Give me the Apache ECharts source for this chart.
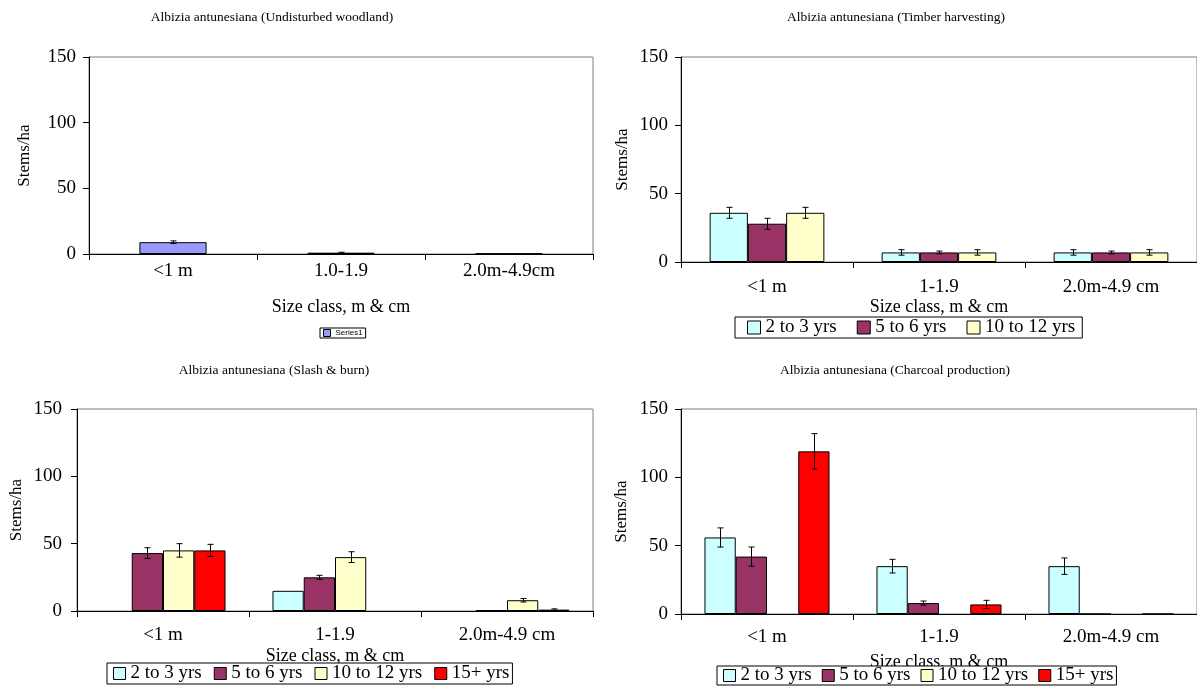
<!DOCTYPE html>
<html><head><meta charset="utf-8">
<script src="https://cdn.jsdelivr.net/npm/echarts@6/dist/echarts.min.js"></script>
<style>html,body{margin:0;padding:0;background:#fff}#c{width:1197px;height:687px}</style>
</head><body><div id="c"></div>
<script>
// ---------- data ----------
const titles = [
  'Albizia antunesiana (Undisturbed woodland)',
  'Albizia antunesiana (Timber harvesting)',
  'Albizia antunesiana (Slash & burn)',
  'Albizia antunesiana (Charcoal production)'
];
const categoriesTL = ['<1 m', '1.0-1.9', '2.0m-4.9cm'];
const categoriesOther = ['<1 m', '1-1.9', '2.0m-4.9 cm'];
const seriesNames = ['2 to 3 yrs', '5 to 6 yrs', '10 to 12 yrs', '15+ yrs'];
const yTicks = [0, 50, 100, 150];

// Undisturbed woodland
const undisturbedSeries1 = [9, 1, 0.3];
const undisturbedSeries1Err = [1, 0.3, 0];

// Timber harvesting
const timber2to3 = [36, 7, 7];
const timber2to3Err = [4, 2, 2];
const timber5to6 = [28, 7, 7];
const timber5to6Err = [4, 1, 1];
const timber10to12 = [36, 7, 7];
const timber10to12Err = [4, 2, 2];

// Slash & burn
const slash2to3 = [null, 15, null];
const slash2to3Err = [0, 0, 0];
const slash5to6 = [43, 25, 0.7];
const slash5to6Err = [4, 1.5, 0];
const slash10to12 = [45, 40, 8];
const slash10to12Err = [5, 4, 1.3];
const slash15plus = [45, null, 1];
const slash15plusErr = [4.5, 0, 0.6];

// Charcoal production
const charcoal2to3 = [56, 35, 35];
const charcoal2to3Err = [7, 5, 6];
const charcoal5to6 = [42, 8, 0];
const charcoal5to6Err = [7, 1.5, 0];
const charcoal10to12 = [null, null, null];
const charcoal10to12Err = [0, 0, 0];
const charcoal15plus = [119, 7, 0];
const charcoal15plusErr = [13, 3, 0];

// ---------- styles ----------
const SERIF = 'Liberation Serif';
const colors = ['#CCFFFF', '#993366', '#FFFFCC', '#FF0000'];

const panels = [
  { grid: {left: 89, top: 57, width: 504, height: 197}, cats: categoriesTL,
    series: [{name: 'Series1', color: '#9999FF', data: undisturbedSeries1, err: undisturbedSeries1Err}],
    labelMargin: 8, nameGap: 53, yNameGap: 64, yLabelMargin: 13, titleX: 272, titleY: 17 },
  { grid: {left: 681, top: 57, width: 519, height: 205}, cats: categoriesOther,
    series: [
      {name: seriesNames[0], color: colors[0], data: timber2to3, err: timber2to3Err},
      {name: seriesNames[1], color: colors[1], data: timber5to6, err: timber5to6Err},
      {name: seriesNames[2], color: colors[2], data: timber10to12, err: timber10to12Err}
    ],
    labelMargin: 16, nameGap: 45, yNameGap: 58, yLabelMargin: 13, titleX: 896, titleY: 17 },
  { grid: {left: 77, top: 409, width: 516, height: 202}, cats: categoriesOther,
    series: [
      {name: seriesNames[0], color: colors[0], data: slash2to3, err: slash2to3Err},
      {name: seriesNames[1], color: colors[1], data: slash5to6, err: slash5to6Err},
      {name: seriesNames[2], color: colors[2], data: slash10to12, err: slash10to12Err},
      {name: seriesNames[3], color: colors[3], data: slash15plus, err: slash15plusErr}
    ],
    labelMargin: 15, nameGap: 45, yNameGap: 60, yLabelMargin: 15, titleX: 274, titleY: 370 },
  { grid: {left: 681, top: 409, width: 519, height: 205}, cats: categoriesOther,
    series: [
      {name: seriesNames[0], color: colors[0], data: charcoal2to3, err: charcoal2to3Err},
      {name: seriesNames[1], color: colors[1], data: charcoal5to6, err: charcoal5to6Err},
      {name: seriesNames[2], color: colors[2], data: charcoal10to12, err: charcoal10to12Err},
      {name: seriesNames[3], color: colors[3], data: charcoal15plus, err: charcoal15plusErr}
    ],
    labelMargin: 14, nameGap: 48, yNameGap: 59, yLabelMargin: 13, titleX: 895, titleY: 370 }
];

function errRender(idx, n) {
  return function (params, api) {
    const v = api.value(1), e = api.value(2);
    if (!(e > 0) || isNaN(v)) return;
    const catW = api.size([1, 0])[0];
    const bw = catW / (n + 1.5);
    const off = (idx - (n - 1) / 2) * bw;
    const top = api.coord([api.value(0), v + e]);
    const bot = api.coord([api.value(0), v - e]);
    const x = Math.round(top[0] + off) + 0.5;
    const cap = 3;
    const st = {stroke: '#000', lineWidth: 1};
    return {type: 'group', children: [
      {type: 'line', shape: {x1: x, y1: top[1], x2: x, y2: bot[1]}, style: st},
      {type: 'line', shape: {x1: x - cap, y1: top[1], x2: x + cap, y2: top[1]}, style: st},
      {type: 'line', shape: {x1: x - cap, y1: bot[1], x2: x + cap, y2: bot[1]}, style: st}
    ]};
  };
}

const grid = [], xAxis = [], yAxis = [], series = [], graphic = [];
panels.forEach((p, gi) => {
  grid.push(Object.assign({show: true, borderColor: '#808080', borderWidth: 1, backgroundColor: '#fff'}, p.grid));
  xAxis.push({
    type: 'category', gridIndex: gi, data: p.cats,
    axisLine: {lineStyle: {color: '#000', width: 1}},
    axisTick: {show: true, length: 6, inside: false, lineStyle: {color: '#000'}},
    axisLabel: {color: '#000', fontFamily: SERIF, fontSize: 19, margin: p.labelMargin, interval: 0},
    name: 'Size class, m & cm', nameLocation: 'middle', nameGap: p.nameGap,
    nameTextStyle: {color: '#000', fontFamily: SERIF, fontSize: 18, verticalAlign: 'middle'},
    splitLine: {show: false}
  });
  yAxis.push({
    type: 'value', gridIndex: gi, min: yTicks[0], max: yTicks[yTicks.length - 1], interval: 50,
    axisLine: {show: true, lineStyle: {color: '#000', width: 1}},
    axisTick: {show: true, length: 6, lineStyle: {color: '#000'}},
    axisLabel: {color: '#000', fontFamily: SERIF, fontSize: 19, margin: p.yLabelMargin},
    splitLine: {show: false},
    name: 'Stems/ha', nameLocation: 'middle', nameGap: p.yNameGap, nameRotate: 90,
    nameTextStyle: {color: '#000', fontFamily: SERIF, fontSize: 17, verticalAlign: 'middle'}
  });
  const n = p.series.length;
  const gap = (1.5 / (n + 1.5) * 100).toFixed(1) + '%';
  p.series.forEach((s, si) => {
    series.push({
      type: 'bar', name: s.name, xAxisIndex: gi, yAxisIndex: gi, data: s.data,
      barGap: '0%', barCategoryGap: gap,
      itemStyle: {color: s.color, borderColor: '#000', borderWidth: 1},
      emphasis: {disabled: true}, z: 2
    });
  });
  p.series.forEach((s, si) => {
    series.push({
      type: 'custom', xAxisIndex: gi, yAxisIndex: gi,
      data: s.data.map((v, i) => [i, v == null ? NaN : v, s.err[i]]),
      encode: {x: 0, y: 1},
      renderItem: errRender(si, n), z: 5, silent: true
    });
  });
  graphic.push({
    type: 'text', x: p.titleX, y: p.titleY,
    style: {text: titles[gi], fill: '#000', font: '13.5px "Liberation Serif"', align: 'center', verticalAlign: 'middle'}
  });
});

const legendBase = {
  orient: 'horizontal', icon: 'rect', selectedMode: false,
  borderColor: '#000', borderWidth: 1, backgroundColor: '#fff',
  itemStyle: {borderColor: '#000', borderWidth: 1}
};
const legend = [
  Object.assign({}, legendBase, {
    data: ['Series1'], left: 320, top: 328, itemWidth: 7, itemHeight: 7, itemGap: 4,
    padding: [1, 3, 1, 3],
    textStyle: {fontFamily: 'Liberation Sans', fontSize: 8, color: '#000'}
  }),
  Object.assign({}, legendBase, {
    data: seriesNames.slice(0, 3), left: 735, top: 317, itemWidth: 13, itemHeight: 13, itemGap: 20,
    padding: [1, 7, 1, 12],
    textStyle: {fontFamily: SERIF, fontSize: 19, color: '#000'}
  }),
  Object.assign({}, legendBase, {
    data: seriesNames, left: 107, top: 663, itemWidth: 12, itemHeight: 12, itemGap: 12,
    padding: [1, 3, 1, 6],
    textStyle: {fontFamily: SERIF, fontSize: 19, color: '#000'}
  }),
  Object.assign({}, legendBase, {
    data: seriesNames, left: 717, top: 666, itemWidth: 12, itemHeight: 12, itemGap: 10,
    padding: [0, 3, 0, 6],
    textStyle: {fontFamily: SERIF, fontSize: 19, color: '#000'}
  })
];

const chart = echarts.init(document.getElementById('c'), null, {renderer: 'canvas'});
chart.setOption({
  animation: false, backgroundColor: '#fff',
  grid, xAxis, yAxis, series, legend, graphic
});
</script></body></html>
